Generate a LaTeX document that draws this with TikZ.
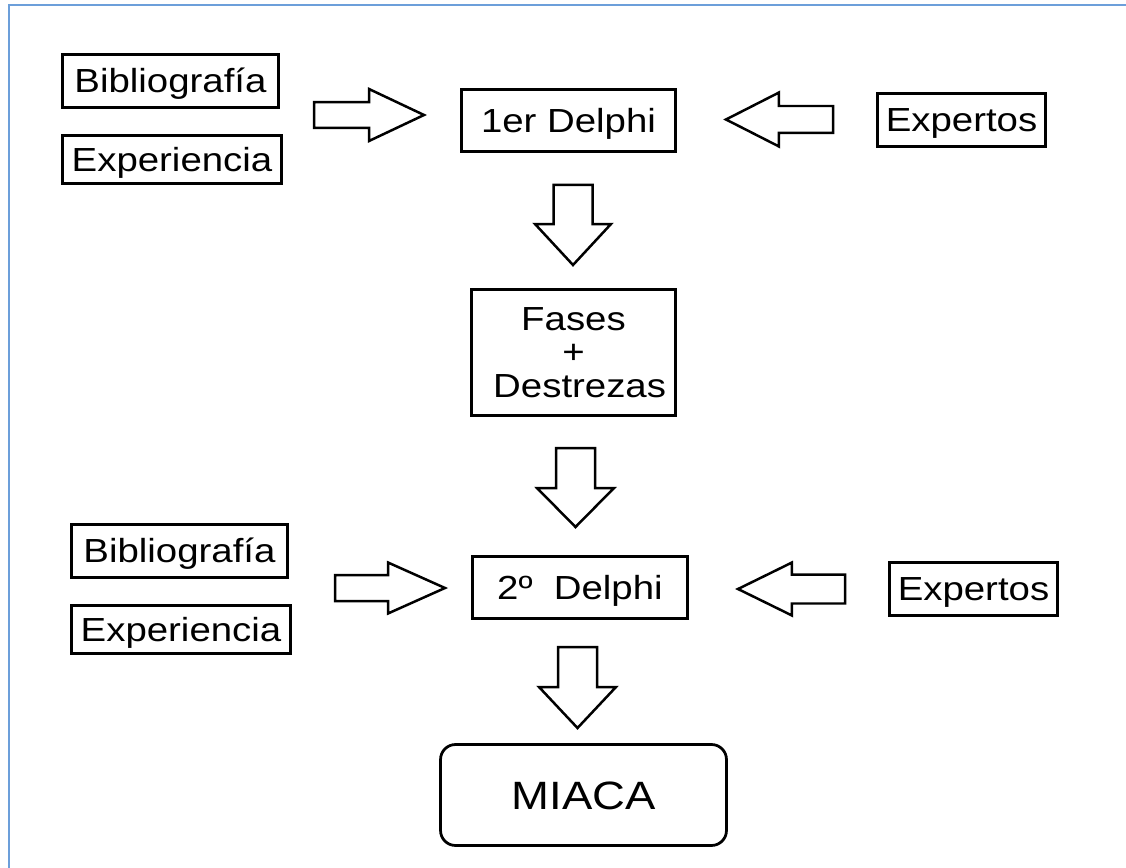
\documentclass[tikz,border=0pt]{standalone}
\usepackage{fontspec}
\usetikzlibrary{calc}
\newfontfamily\diagfont[FakeStretch=1.15]{Liberation Sans}
\definecolor{frameblue}{HTML}{6C9FDA}

% hollow block arrow from #1 (tail) to #2 (tip):
% #3 shaft half-width, #4 head half-width, #5 head length
\newcommand\blockarrow[5]{%
  \coordinate (ba-h) at ($(#2)!#5!(#1)$);
  \draw[arrowline]
    ($(#1)!#3!90:(#2)$) -- ($(ba-h)!#3!90:(#2)$) -- ($(ba-h)!#4!90:(#2)$) -- (#2)
    -- ($(ba-h)!#4!-90:(#2)$) -- ($(ba-h)!#3!-90:(#2)$) -- ($(#1)!#3!-90:(#2)$) -- cycle;
}

\begin{document}
\begin{tikzpicture}[x=0.02cm,y=-0.02cm,
  box/.style={draw=black, line width=0.055cm, fill=white, inner sep=0pt,
    font=\diagfont\fontsize{19pt}{19pt}\selectfont, align=center},
  oneline/.style={box, text height=13.6pt, text depth=0pt},
  arrowline/.style={draw=black, line width=0.05cm, fill=white, line join=miter},
  frameline/.style={draw=frameblue, line width=0.045cm}]
\useasboundingbox (0,0) rectangle (1126,868);

% page frame (top and left edges)
\draw[frameline] (9,868) -- (9,5) -- (1126,5);

% first Delphi round
\node[oneline, minimum width=4.32cm, minimum height=1.06cm] (bib1) at (170.5,81) {Bibliografía};
\node[oneline, minimum width=4.38cm, minimum height=0.96cm] (exp1) at (172,159.5) {Experiencia};
\node[oneline, minimum width=4.28cm, minimum height=1.24cm] (del1) at (568.5,120.5) {1er Delphi};
\node[oneline, minimum width=3.36cm, minimum height=1.06cm] (expt1) at (961.5,120) {Expertos};

% intermediate result
\node[box, minimum width=4.08cm, minimum height=2.52cm] (fases) at (573.5,352.5)
  {Fases\hspace{8pt}\\+\hspace{11pt}\\\hspace{7pt}Destrezas};

% second Delphi round
\node[oneline, minimum width=4.32cm, minimum height=1.06cm] (bib2) at (179.5,551) {Bibliografía};
\node[oneline, minimum width=4.38cm, minimum height=0.96cm] (exp2) at (181,629.5) {Experiencia};
\node[oneline, minimum width=4.3cm, minimum height=1.24cm] (del2) at (580,587.5) {2º~~Delphi};
\node[oneline, minimum width=3.36cm, minimum height=1.06cm] (expt2) at (973.5,589) {Expertos};

% final model
\node[oneline, text height=16.1pt, rounded corners=0.3cm, minimum width=5.72cm, minimum height=2.02cm,
  font=\diagfont\fontsize{22.5pt}{22.5pt}\selectfont] (miaca) at (583.5,795) {MIACA};

% block arrow end points
\coordinate (r1s) at (314,115);   \coordinate (r1t) at (424,115);
\coordinate (l1s) at (833,119.5); \coordinate (l1t) at (726,119.5);
\coordinate (d1s) at (573,185);   \coordinate (d1t) at (573,265);
\coordinate (d2s) at (575.5,448); \coordinate (d2t) at (575.5,527);
\coordinate (r2s) at (335,588);   \coordinate (r2t) at (445,588);
\coordinate (l2s) at (845,589);   \coordinate (l2t) at (738,589);
\coordinate (d3s) at (577.5,647); \coordinate (d3t) at (577.5,728);

\blockarrow{r1s}{r1t}{0.26cm}{0.52cm}{1.1cm}
\blockarrow{l1s}{l1t}{0.27cm}{0.54cm}{1.06cm}
\blockarrow{d1s}{d1t}{0.39cm}{0.76cm}{0.82cm}
\blockarrow{d2s}{d2t}{0.39cm}{0.77cm}{0.78cm}
\blockarrow{r2s}{r2t}{0.26cm}{0.51cm}{1.14cm}
\blockarrow{l2s}{l2t}{0.29cm}{0.53cm}{1.08cm}
\blockarrow{d3s}{d3t}{0.39cm}{0.77cm}{0.82cm}
\end{tikzpicture}
\end{document}
